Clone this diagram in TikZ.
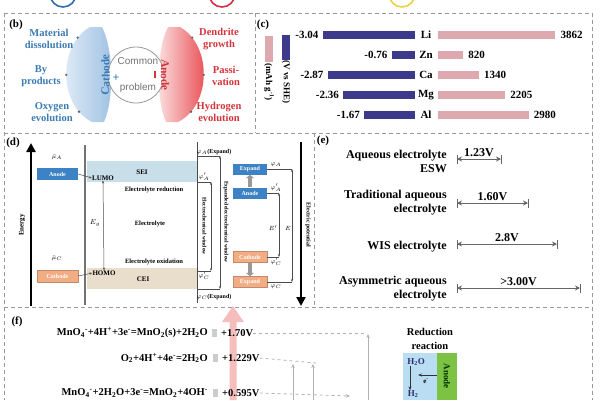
\documentclass[tikz,border=0pt]{standalone}
\usepackage{fontspec}
\setmainfont{Liberation Serif}
\setsansfont{Liberation Sans}
\usetikzlibrary{arrows.meta,positioning,calc,decorations.text}

\definecolor{ringblue}{HTML}{2F6DB0}
\definecolor{ringred}{HTML}{D32F45}
\definecolor{ringyellow}{HTML}{EAD24A}
\definecolor{cathlight}{HTML}{E6F0F9}
\definecolor{cathdark}{HTML}{9DC0E2}
\definecolor{cathtext}{HTML}{3B7BB3}
\definecolor{anolight}{HTML}{FCE4E4}
\definecolor{anodark}{HTML}{E63E44}
\definecolor{anotext}{HTML}{D3343C}
\definecolor{potblue}{HTML}{3D3A8C}
\definecolor{cappink}{HTML}{DDA8AE}
\definecolor{anodebox}{HTML}{3C82C4}
\definecolor{cathbox}{HTML}{F2AD84}
\definecolor{seicol}{HTML}{C8DEE8}
\definecolor{ceicol}{HTML}{E9DDCC}
\definecolor{arrowpink}{HTML}{F6BDBD}
\definecolor{redblue}{HTML}{B9DDF3}
\definecolor{redgreen}{HTML}{7CC243}

\newcommand{\chsub}[1]{\textsubscript{#1}}
\newcommand{\chsup}[1]{\textsuperscript{#1}}

\tikzset{
	panelline/.style={
		draw=black!40, line width=0.8pt, dash pattern=on 4pt off 3pt
	},
	%
	ring/.style={
		line width=1.6pt
	},
	%
	panellab/.style={
		font=\bfseries\fontsize{11}{11}\selectfont, inner sep=0pt
	},
	%
	blab/.style={
		font=\bfseries\fontsize{10.5}{12}\selectfont, align=center, inner sep=0pt
	},
	%
	dotnode/.style={
		circle, fill=black!60, inner sep=0pt, minimum size=2.6pt
	},
	%
	clab/.style={
		font=\bfseries\fontsize{11}{11}\selectfont, inner sep=0pt
	},
	%
	potbar/.style={
		rectangle, fill=potblue, inner sep=0pt, minimum height=8pt
	},
	%
	capbar/.style={
		rectangle, fill=cappink, inner sep=0pt, minimum height=8pt
	},
	%
	dtext/.style={
		font=\bfseries\fontsize{6.5}{7}\selectfont, inner sep=0pt
	},
	%
	ebox/.style={
		rectangle, font=\bfseries\fontsize{6}{6}\selectfont, text=white,
		inner sep=0pt, minimum width=34pt, minimum height=11pt
	},
	%
	thinline/.style={
		draw=black!70, line width=0.5pt
	},
	%
	bigarrow/.style={
		line width=2.4pt, -{Triangle[width=9pt,length=9pt]}
	},
	%
	elab/.style={
		font=\bfseries\fontsize{12}{14}\selectfont, align=right, inner sep=0pt
	},
	%
	dimarrow/.style={
		draw=black!60, line width=0.9pt,
		{Stealth[length=5pt,width=5pt]}-{Stealth[length=5pt,width=5pt]}
	},
	%
	dimbar/.style={
		draw=black!60, line width=0.9pt
	},
	%
	flab/.style={
		font=\bfseries\fontsize{10.5}{12}\selectfont, inner sep=0pt
	},
	%
	garrow/.style={
		draw=black!30, line width=0.8pt, -{Stealth[length=4pt,width=3.5pt]}
	}
}

\begin{document}
\begin{tikzpicture}[x=1pt,y=-1pt]
    \useasboundingbox (0,0) rectangle (600,400);
    \clip (0,0) rectangle (600,400);
    % rings of panel (a), cut by the top edge
    \draw[ring, draw=ringblue] (63,-6) circle (13pt);
    \draw[ring, draw=ringred] (222,-6) circle (13pt);
    \draw[ring, draw=ringyellow] (402,-6) circle (13pt);
    % panel frames
    \draw[panelline] (4,13) -- (592,13);
    \draw[panelline] (4,133) -- (592,133);
    \draw[panelline] (4,307) -- (592,307);
    \draw[panelline] (4,13) -- (4,400);
    \draw[panelline] (592,13) -- (592,400);
    \draw[panelline] (255,13) -- (255,133);
    \draw[panelline] (314,133) -- (314,307);

    % (b)
    \node(bLab)[panellab] at (16,25){(b)};
    \shade[left color=cathlight, right color=cathdark]
        (90,27) .. controls (58,45) and (58,105) .. (92,122)
        -- (104,122) .. controls (114,100) and (114,50) .. (102,27) -- cycle;
    \shade[left color=anolight, right color=anodark]
        (180,27) .. controls (212,45) and (212,105) .. (178,122)
        -- (166,122) .. controls (156,100) and (156,50) .. (168,27) -- cycle;
    \node(Common)[circle, draw=black!40, fill=white, line width=0.8pt, minimum size=56pt] at (136,75){};
    \node[font=\sffamily\fontsize{10}{10}\selectfont, text=black!55] at (138,61){Common};
    \node[font=\sffamily\fontsize{10}{10}\selectfont, text=black!55] at (138,88){problem};
    \path (90,27) .. controls (58,45) and (58,105) .. (92,122)
        node(cd1)[dotnode, pos=.15]{} node(cd2)[dotnode, pos=.5]{} node(cd3)[dotnode, pos=.85]{};
    \path (180,27) .. controls (212,45) and (212,105) .. (178,122)
        node(ad1)[dotnode, pos=.15]{} node(ad2)[dotnode, pos=.5]{} node(ad3)[dotnode, pos=.85]{};
    \path[decorate, decoration={text along path, text align=center,
        text={|\color{cathtext}\bfseries\fontsize{11.5}{12}\selectfont|Cathode}}]
        (103,122) .. controls (112,95) and (112,55) .. (103,28);
    \path[decorate, decoration={text along path, text align=center,
        text={|\color{anotext}\bfseries\fontsize{11.5}{12}\selectfont|Anode}}]
        (167,28) .. controls (159,55) and (159,95) .. (167,122);
    \node(plus)[text=cathtext, font=\bfseries\fontsize{12}{12}\selectfont, inner sep=0pt] at (116,78){+};
    \node(minus)[fill=anotext, inner sep=0pt, minimum width=2.5pt, minimum height=7pt] at (155,74){};
    \node(Mat)[blab, text=cathtext] at (49,39){Material\\dissolution};
    \node(Byp)[blab, text=cathtext] at (41,76){By\\products};
    \node(Oxy)[blab, text=cathtext] at (52,112){Oxygen\\evolution};
    \node(Den)[blab, text=anotext] at (219,39){Dendrite\\growth};
    \node(Pas)[blab, text=anotext] at (226,76){Passi-\\vation};
    \node(Hyd)[blab, text=anotext] at (219,112){Hydrogen\\evolution};

    % (c)
    \node(cLab)[panellab] at (263,25){(c)};
    \fill[cappink] (265,36) rectangle (273,62);
    \fill[potblue] (282,35) rectangle (290,60);
    \node[clab, rotate=-90, font=\bfseries\fontsize{9}{9}\selectfont] at (269,82){(mAh g\chsup{-1})};
    \node[clab, rotate=-90, font=\bfseries\fontsize{9}{9}\selectfont] at (286,82){(V vs SHE)};
    \foreach \el/\pot/\cap [count=\i] in {Li/3.04/3862,Zn/0.76/820,Ca/2.87/1340,Mg/2.36/2205,Al/1.67/2980}{
        \pgfmathsetmacro{\yy}{15+20*\i}
        \pgfmathsetmacro{\pw}{30.3*\pot}
        \pgfmathsetmacro{\cw}{0.0303*\cap}
        \node(el\i)[clab] at (426,\yy){\el};
        \node(pb\i)[potbar, minimum width=\pw pt, anchor=east] at (415,\yy){};
        \node(cb\i)[capbar, minimum width=\cw pt, anchor=west] at (438,\yy){};
        \node[clab, left=4pt of pb\i]{-\pot};
        \node[clab, right=5pt of cb\i]{\cap};
    }

    % (d)
    \node(dLab)[panellab] at (13,143){(d)};
    \fill[seicol] (87,161) rectangle (197,182);
    \fill[ceicol] (87,268) rectangle (197,289);
    \draw[bigarrow] (31,306) -- (31,143);
    \node[dtext, rotate=90, font=\bfseries\fontsize{7}{7}\selectfont] at (22,225){Energy};
    \draw[draw=black!55, line width=1.2pt] (85,145) -- (85,305);
    \node(muA)[dtext] at (57,157){$\bar{\mu}_A$};
    \node(muC)[dtext] at (57,258){$\bar{\mu}_C$};
    \node(Anode)[ebox, fill=anodebox, minimum width=41pt, minimum height=12pt] at (57.5,174){Anode};
    \node(Cathode)[ebox, fill=cathbox, draw=cathbox!80!black, minimum width=41pt, minimum height=12pt] at (57.5,276){Cathode};
    \node(LUMO)[dtext, font=\bfseries\fontsize{7}{7}\selectfont] at (103,178){LUMO};
    \node(HOMO)[dtext, font=\bfseries\fontsize{7}{7}\selectfont] at (104,273){HOMO};
    \draw[thinline, -{Stealth[length=3pt]}] (Anode.east) -- (LUMO.west);
    \draw[thinline, -{Stealth[length=3pt]}] (Cathode.east) -- (HOMO.west);
    \draw[thinline, {Stealth[length=3pt]}-{Stealth[length=3pt]}] (LUMO.south) -- (HOMO.north);
    \node(Eg)[dtext, font=\fontsize{7}{7}\selectfont] at (95,223){$E_g$};
    \node(SEI)[dtext, font=\bfseries\fontsize{7}{7}\selectfont] at (142,172){SEI};
    \node(CEI)[dtext, font=\bfseries\fontsize{7}{7}\selectfont] at (143,279){CEI};
    \node(Ered)[dtext] at (154,190){Electrolyte reduction};
    \node(Elec)[dtext] at (150,224){Electrolyte};
    \node(Eox)[dtext] at (154,262){Electrolyte oxidation};
    % windows
    \draw[thinline, line width=0.7pt] (197,142) -- (197,303);
    \node(phiAE)[dtext, font=\bfseries\fontsize{6}{6}\selectfont] at (214,152){$\varphi_A$(Expand)};
    \node(phiCE)[dtext, font=\bfseries\fontsize{6}{6}\selectfont] at (214,297){$\varphi_C$(Expand)};
    \node(phiA1)[dtext, font=\fontsize{6}{6}\selectfont] at (204,177){$\varphi_A'$};
    \node(phiC1)[dtext, font=\fontsize{6}{6}\selectfont] at (204,276){$\varphi_C'$};
    \coordinate(ewT) at (211,182);
    \coordinate(ewB) at (211,271);
    \coordinate(xwT) at (220,156);
    \coordinate(xwB) at (220,289);
    \draw[thinline] (197,182) -- (ewT);
    \draw[thinline] (197,271) -- (ewB);
    \draw[thinline] (197,156) -- (xwT);
    \draw[thinline] (197,289) -- (xwB);
    \draw[thinline, {Stealth[length=3pt]}-{Stealth[length=3pt]}] (ewT) -- (ewB);
    \draw[thinline, {Stealth[length=3pt]}-{Stealth[length=3pt]}] (xwT) -- (xwB);
    \node[dtext, rotate=-90, font=\bfseries\fontsize{5.5}{6}\selectfont] at (204.5,226){Electrochemical window};
    \node[dtext, rotate=-90, font=\bfseries\fontsize{5.5}{6}\selectfont] at (226,222){Expanded electrochemical window};
    % electrode shift
    \node(ExpA)[ebox, fill=anodebox] at (250,169){Expand};
    \node(AnR)[ebox, fill=anodebox] at (250,193){Anode};
    \node(CaR)[ebox, fill=cathbox, draw=cathbox!80!black] at (250,257){Cathode};
    \node(ExpC)[ebox, fill=cathbox, draw=cathbox!80!black] at (250,282){Expand};
    \draw[draw=black!40, line width=3.5pt, -{Triangle[width=8pt,length=3.5pt]}] (AnR.north) -- (ExpA.south);
    \draw[draw=black!40, line width=3.5pt, -{Triangle[width=8pt,length=3.5pt]}] (CaR.south) -- (ExpC.north);
    \node[dtext, font=\fontsize{6}{6}\selectfont] at (276,165){$\varphi_A$};
    \node[dtext, font=\fontsize{6}{6}\selectfont] at (276,188){$\varphi_A'$};
    \node[dtext, font=\fontsize{6}{6}\selectfont] at (276,262){$\varphi_C'$};
    \node[dtext, font=\fontsize{6}{6}\selectfont] at (276,287){$\varphi_C$};
    \coordinate(eoT) at (292,169);
    \coordinate(eoB) at (292,282);
    \coordinate(eiT) at (279,193);
    \coordinate(eiB) at (279,257);
    \draw[thinline] (ExpA.east) -- (eoT);
    \draw[thinline] (ExpC.east) -- (eoB);
    \draw[thinline] (AnR.east) -- (eiT);
    \draw[thinline] (CaR.east) -- (eiB);
    \draw[thinline, {Stealth[length=3pt]}-{Stealth[length=3pt]}] (eoT) -- (eoB);
    \draw[thinline, {Stealth[length=3pt]}-{Stealth[length=3pt]}] (eiT) -- (eiB);
    \node[dtext, font=\fontsize{6}{6}\selectfont] at (288,228){$E$};
    \node[dtext, font=\fontsize{6}{6}\selectfont] at (273,228){$E'$};
    \draw[bigarrow] (301,142) -- (301,306);
    \node[dtext, rotate=-90, font=\bfseries\fontsize{6}{6}\selectfont] at (308,225){Electric potential};

    % (e)
    \node(eLab)[panellab] at (323,141){(e)};
    \node(aq)[elab, anchor=east] at (447,161){Aqueous electrolyte\\ESW};
    \node(trad)[elab, anchor=east] at (447,203){Traditional aqueous\\electrolyte};
    \node(wis)[elab, anchor=east] at (447,247){WIS electrolyte};
    \node(asym)[elab, anchor=east] at (447,289){Asymmetric aqueous\\electrolyte};
    \foreach \nm/\yy/\xe/\vv in {w1/159/501/1.23V, w2/203/528/1.60V, w3/244/557/2.8V, w4/288/580/>3.00V}{
        \coordinate(\nm s) at (457,\yy);
        \coordinate(\nm e) at (\xe,\yy);
        \draw[dimbar] ([yshift=-4.5pt]\nm s) -- ([yshift=4.5pt]\nm s);
        \draw[dimbar] ([yshift=-4.5pt]\nm e) -- ([yshift=4.5pt]\nm e);
        \draw[dimarrow] (\nm s) -- node[above=1.5pt, font=\bfseries\fontsize{12}{12}\selectfont, inner sep=0pt]{\vv} (\nm e);
    }

    % (f)
    \node(fLab)[panellab] at (17,322){(f)};
    \fill[arrowpink] (229.5,400) -- (229.5,322) -- (222,322) -- (233,306)
        -- (244,322) -- (236.5,322) -- (236.5,400) -- cycle;
    \node(eq1)[flab, anchor=east] at (208,333){MnO\chsub{4}\chsup{-}+4H\chsup{+}+3e\chsup{-}=MnO\chsub{2}(s)+2H\chsub{2}O};
    \node(eq2)[flab, anchor=east] at (208,358){O\chsub{2}+4H\chsup{+}+4e\chsup{-}=2H\chsub{2}O};
    \node(eq3)[flab, anchor=east] at (208,393){MnO\chsub{4}\chsup{-}+2H\chsub{2}O+3e\chsup{-}=MnO\chsub{2}+4OH\chsup{-}};
    \fill[black!20] (212,329) rectangle (217,337);
    \fill[black!20] (213,354) rectangle (218,362);
    \fill[black!20] (213,389) rectangle (218,397);
    \node(v1)[flab, anchor=west] at (221,333){+1.70V};
    \node(v2)[flab, anchor=west] at (222,358){+1.229V};
    \node(v3)[flab, anchor=west] at (222,393){+0.595V};
    \coordinate(l1) at (366,333);
    \coordinate(l2) at (316,363);
    \coordinate(l3) at (350,396);
    \draw[garrow, -, dashed] (v1.east) -- (l1);
    \draw[garrow, -, dashed] (v2.east) -- (l2);
    \draw[garrow, dashed] (v3.east) -- (l3);
    \draw[garrow] (368,400) -- (368,334);
    \draw[garrow] (293,400) -- (293,364);
    \draw[garrow] (313,400) -- (313,364);
    \node(Red)[flab, align=center, font=\bfseries\fontsize{10.5}{14}\selectfont] at (430,339){Reduction\\reaction};
    \fill[redblue] (403,353) rectangle (437,400);
    \fill[redgreen] (437,353) rectangle (457,400);
    \node(AnG)[flab, rotate=-90, text=black!80!green, font=\bfseries\fontsize{9}{9}\selectfont] at (447,376){Anode};
    \node(H2O)[flab, text=potblue!80!black, font=\bfseries\fontsize{9}{9}\selectfont] at (416,362){H\chsub{2}O};
    \node(H2)[flab, text=potblue!80!black, font=\bfseries\fontsize{9}{9}\selectfont] at (413,394){H\chsub{2}};
    \draw[draw=black!80, line width=0.8pt, -{Stealth[length=4pt]}] (H2O.south -| 410,0) -- (H2.north -| 410,0);
    \coordinate(eIn) at (437,375);
    \coordinate(eOut) at (418,375);
    \draw[draw=black!80, line width=0.8pt, -{Stealth[length=4pt]}] (eIn) -- (eOut);
    \node(eminus)[flab, font=\bfseries\fontsize{7}{7}\selectfont] at (426,381){e\chsup{-}};
\end{tikzpicture}
\end{document}
